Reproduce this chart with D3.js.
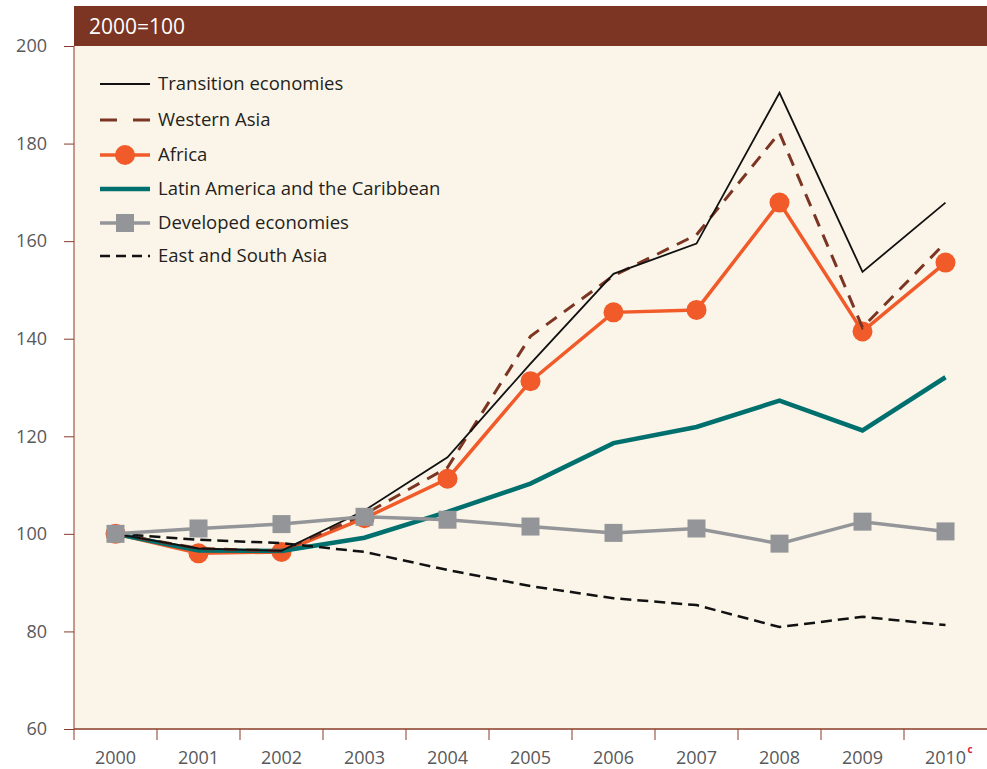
<!DOCTYPE html>
<meta charset="utf-8">
<html>
<head>
    <title>Index 2000=100</title>
    <script src="https://cdn.jsdelivr.net/npm/d3@7"></script>
</head>
<style>
    body{
        margin: 0;
        background: white;
    }
    svg{
        display: block;
    }
    text{
        font-family: "Open Sans", sans-serif;
    }
</style>
<body>
<svg width="987" height="769"></svg>

<script>
    // values
    const years = ["2000","2001","2002","2003","2004","2005","2006","2007","2008","2009","2010"]
    const yTicks = [60, 80, 100, 120, 140, 160, 180, 200]

    const transition = [100, 97.0, 96.5, 104.8, 115.7, 134.9, 153.3, 159.5, 190.4, 153.7, 167.9]
    const westernAsia = [100, 97.0, 96.5, 104.0, 113.6, 140.5, 152.9, 161.3, 182.2, 142.3, 159.7]
    const africa = [100, 96.0, 96.3, 103.2, 111.3, 131.3, 145.4, 145.9, 167.9, 141.5, 155.6]
    const latinAmerica = [100, 96.6, 96.5, 99.2, 104.5, 110.3, 118.6, 121.9, 127.3, 121.2, 132.1]
    const developed = [100, 101.1, 102.0, 103.5, 102.9, 101.5, 100.2, 101.1, 98.0, 102.5, 100.5]
    const eastSouthAsia = [100, 98.8, 98.1, 96.3, 92.6, 89.3, 86.8, 85.4, 80.9, 83.0, 81.3]

    const seriesNames = ["Transition economies", "Western Asia", "Africa",
        "Latin America and the Caribbean", "Developed economies", "East and South Asia"]

    const svg = d3.select("svg")
    const mLeft = 74, mRight = 987, mTop = 6, headerH = 40, mBottom = 729

    const x = d3.scaleBand().domain(years).range([mLeft, mRight])
    const y = d3.scaleLinear().domain([60, 200]).range([mBottom, mTop + headerH])

    // background + header
    svg.append("rect")
        .attr("x", mLeft).attr("y", mTop)
        .attr("width", mRight - mLeft).attr("height", mBottom - mTop)
        .style("fill", "#fbf5e9")
    svg.append("rect")
        .attr("x", mLeft).attr("y", mTop)
        .attr("width", mRight - mLeft).attr("height", headerH)
        .style("fill", "#7b3522")
    svg.append("text")
        .attr("x", 89).attr("y", mTop + 28)
        .style("fill", "white")
        .style("font-size", "21px")
        .text("2000=100")

    // y axis
    const yAxis = svg.append("g")
        .attr("transform", `translate(${mLeft},0)`)
        .call(d3.axisLeft(y).tickValues(yTicks).tickSize(10).tickPadding(17))
    yAxis.select(".domain").style("stroke", "#8a3b27").attr("d", `M0,${y(200)}V${mBottom}`)
    yAxis.selectAll(".tick line").style("stroke", "#8a3b27")
    yAxis.selectAll(".tick text")
        .style("font-size", "18px")
        .style("fill", "#58595b")
        .style("font-family", "'Open Sans', sans-serif")

    // x axis: ticks at band edges
    const xg = svg.append("g")
    xg.append("line")
        .attr("x1", mLeft).attr("x2", mRight)
        .attr("y1", mBottom).attr("y2", mBottom)
        .style("stroke", "#8a3b27").style("stroke-width", 1.5)
    xg.selectAll(".xt")
        .data(years)
        .enter()
        .append("line")
        .attr("x1", d => x(d)).attr("x2", d => x(d))
        .attr("y1", mBottom).attr("y2", mBottom + 11)
        .style("stroke", "#8a3b27")
    xg.selectAll(".xl")
        .data(years)
        .enter()
        .append("text")
        .attr("x", d => x(d) + x.bandwidth() / 2)
        .attr("y", mBottom + 35)
        .attr("text-anchor", "middle")
        .style("font-size", "18px")
        .style("fill", "#58595b")
        .text(d => d)
    // superscript c on 2010
    svg.append("text")
        .attr("x", x("2010") + x.bandwidth() / 2 + 22)
        .attr("y", mBottom + 24)
        .style("font-size", "10px")
        .style("font-weight", "bold")
        .style("fill", "#e0203a")
        .text("c")

    const cx = d => x(d) + x.bandwidth() / 2
    const line = d3.line()
        .x((d, i) => cx(years[i]))
        .y(d => y(d))

    const styles = [
        {data: africa, color: "#f15a29", width: 3.5, dash: null},
        {data: latinAmerica, color: "#00706f", width: 4.5, dash: null},
        {data: westernAsia, color: "#7b3522", width: 3, dash: "13,9"},
        {data: transition, color: "#111111", width: 1.8, dash: null},
        {data: eastSouthAsia, color: "#111111", width: 2.5, dash: "11,6"},
        {data: developed, color: "#939598", width: 3.5, dash: null}
    ]

    styles.forEach(function (s) {
        svg.append("path")
            .datum(s.data)
            .attr("d", line)
            .style("fill", "none")
            .style("stroke", s.color)
            .style("stroke-width", s.width)
            .style("stroke-dasharray", s.dash)
            .style("stroke-linejoin", "miter")
        if (s.data === africa) {
            svg.selectAll(".dot")
                .data(africa)
                .enter()
                .append("circle")
                .attr("cx", (d, i) => cx(years[i]))
                .attr("cy", d => y(d))
                .attr("r", 10)
                .style("fill", "#f15a29")
        }
        if (s.data === developed) {
            svg.selectAll(".sq")
                .data(developed)
                .enter()
                .append("rect")
                .attr("x", (d, i) => cx(years[i]) - 9)
                .attr("y", d => y(d) - 9)
                .attr("width", 18).attr("height", 18)
                .style("fill", "#939598")
        }
    })

    // legend
    const legendStyles = [
        {color: "#111111", width: 1.8, dash: null, marker: null},
        {color: "#7b3522", width: 3, dash: "17,16", marker: null},
        {color: "#f15a29", width: 3.5, dash: null, marker: "circle"},
        {color: "#00706f", width: 4.5, dash: null, marker: null},
        {color: "#939598", width: 3.5, dash: null, marker: "square"},
        {color: "#111111", width: 2.5, dash: "10,6", marker: null}
    ]
    const rowY = [84, 120, 155, 189, 223, 256]
    const legend = svg.append("g")
    seriesNames.forEach(function (name, i) {
        const s = legendStyles[i]
        const g = legend.append("g").attr("transform", `translate(0,${rowY[i]})`)
        g.append("line")
            .attr("x1", 100).attr("x2", 150)
            .style("stroke", s.color)
            .style("stroke-width", s.width)
            .style("stroke-dasharray", s.dash)
        if (s.marker === "circle") {
            g.append("circle").attr("cx", 125).attr("r", 10).style("fill", s.color)
        }
        if (s.marker === "square") {
            g.append("rect").attr("x", 116).attr("y", -9).attr("width", 18).attr("height", 18)
                .style("fill", s.color)
        }
        g.append("text")
            .attr("x", 158).attr("dy", "0.35em")
            .style("font-size", "18.5px")
            .style("fill", "#231f20")
            .text(name)
    })
</script>
</body>
</html>
